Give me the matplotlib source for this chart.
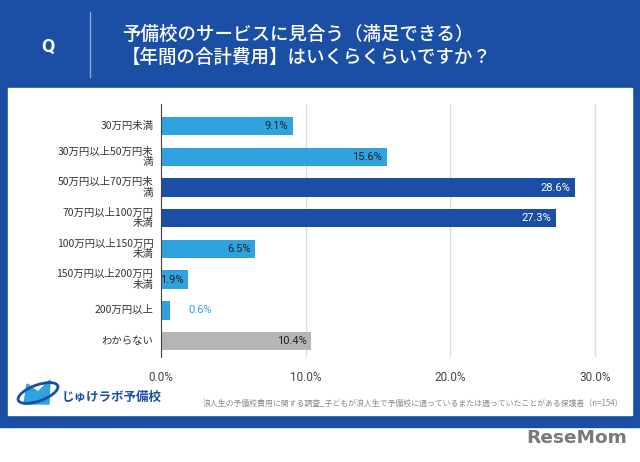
"""Annual prep-school cost survey — horizontal bar chart in a blue card."""

import matplotlib.pyplot as plt
from matplotlib.patches import Rectangle, Polygon, Ellipse

plt.rcParams["font.family"] = ["Noto Sans CJK JP", "DejaVu Sans"]

CATEGORIES = [
    "30万円未満",
    "30万円以上50万円未\n満",
    "50万円以上70万円未\n満",
    "70万円以上100万円\n未満",
    "100万円以上150万円\n未満",
    "150万円以上200万円\n未満",
    "200万円以上",
    "わからない",
]
SHARES = [9.1, 15.6, 28.6, 27.3, 6.5, 1.9, 0.6, 10.4]
KINDS = ["light", "light", "dark", "dark", "light", "light", "light", "grey"]
TICKS = [0, 10, 20, 30]
TITLE = "予備校のサービスに見合う（満足できる）\n【年間の合計費用】はいくらくらいですか？"
SOURCE = "浪人生の予備校費用に関する調査_子どもが浪人生で予備校に通っているまたは通っていたことがある保護者（n=154）"

BLUE = "#1b4fa6"
LIGHT = "#2ea3df"
GREY = "#b5b5b5"
COLORS = {"light": LIGHT, "dark": BLUE, "grey": GREY}

W, H = 640, 462
fig = plt.figure(figsize=(W / 100, H / 100), dpi=100)

# background: blue card on white, white panel inside
bg = fig.add_axes([0, 0, 1, 1])
bg.set_xlim(0, W)
bg.set_ylim(H, 0)
bg.axis("off")
bg.add_patch(Rectangle((0, 0), W, 427, color=BLUE))
bg.add_patch(Rectangle((8, 88), 624, 327, color="white"))
bg.plot([90, 90], [12, 77], color="#8fa9d6", lw=1)
bg.text(48, 47, "Q", color="white", fontsize=14, fontweight="bold",
        ha="center", va="center", family="Roboto")
bg.text(122, 46, TITLE, color="white", fontsize=13.3, fontweight="medium",
        ha="left", va="center", linespacing=1.25)

# logo
bg.add_patch(Polygon([[24, 404], [27, 384], [38, 392], [50, 380], [49, 404]],
                     closed=True, color=LIGHT))
bg.add_patch(Ellipse((38, 393), 42, 16, angle=-20, fill=False,
                     edgecolor=BLUE, lw=2))
bg.text(62, 397, "じゅけラボ予備校", color=BLUE, fontsize=9, fontweight="bold",
        va="center")
bg.text(623, 403, SOURCE, color="#8a8a8a", fontsize=5.7, ha="right", va="center")
bg.text(627, 438, "ReseMom", color="#7a7a7a", fontsize=13.3, fontweight="bold",
        ha="right", va="center", family="DejaVu Sans")

# chart axes
x0, x30, x1 = 161, 595, 610
top, bot = 104, 357
ax = fig.add_axes([x0 / W, 1 - bot / H, (x1 - x0) / W, (bot - top) / H])
span = 30 * (x1 - x0) / (x30 - x0)
ax.set_xlim(0, span)
ax.set_ylim(7.52, -0.72)

ys = list(range(len(CATEGORIES)))
colors = [COLORS[k] for k in KINDS]
ax.barh(ys, SHARES, height=0.6, color=colors, zorder=3)

for y, v, k in zip(ys, SHARES, KINDS):
    label = f"{v}%"
    if v < 1:
        ax.text(v + 1.3, y, label, color=LIGHT, fontsize=8, va="center",
                ha="left", family="Roboto")
    else:
        ax.text(v - 0.3, y, label, color="white" if k == "dark" else "#222222",
                fontsize=8, va="center", ha="right", family="Roboto", zorder=4)

# category labels, one text per line so each line is right-aligned
ax.set_yticks(ys)
ax.set_yticklabels([])
for y, cat in zip(ys, CATEGORIES):
    lines = cat.split("\n")
    n = len(lines)
    for i, line in enumerate(lines):
        off = (((n - 1) / 2) - i) * 7.6
        ax.annotate(line, xy=(0, y), xycoords=("axes fraction", "data"),
                    xytext=(-5.5, off), textcoords="offset points",
                    ha="right", va="center", fontsize=7.5, color="#333333")

ax.set_xticks(TICKS)
ax.set_xticklabels([f"{t:.1f}%" for t in TICKS], fontsize=8.5, color="#444444",
                   family="Roboto")
ax.tick_params(axis="both", length=0)
ax.tick_params(axis="x", pad=10)
ax.grid(axis="x", color="#dddddd", lw=1, zorder=0)
for s in ["top", "right", "bottom"]:
    ax.spines[s].set_visible(False)
ax.spines["left"].set_color("#444444")
ax.spines["left"].set_linewidth(0.8)
ax.spines["left"].set_zorder(5)

fig.savefig("out.png", dpi=100)
